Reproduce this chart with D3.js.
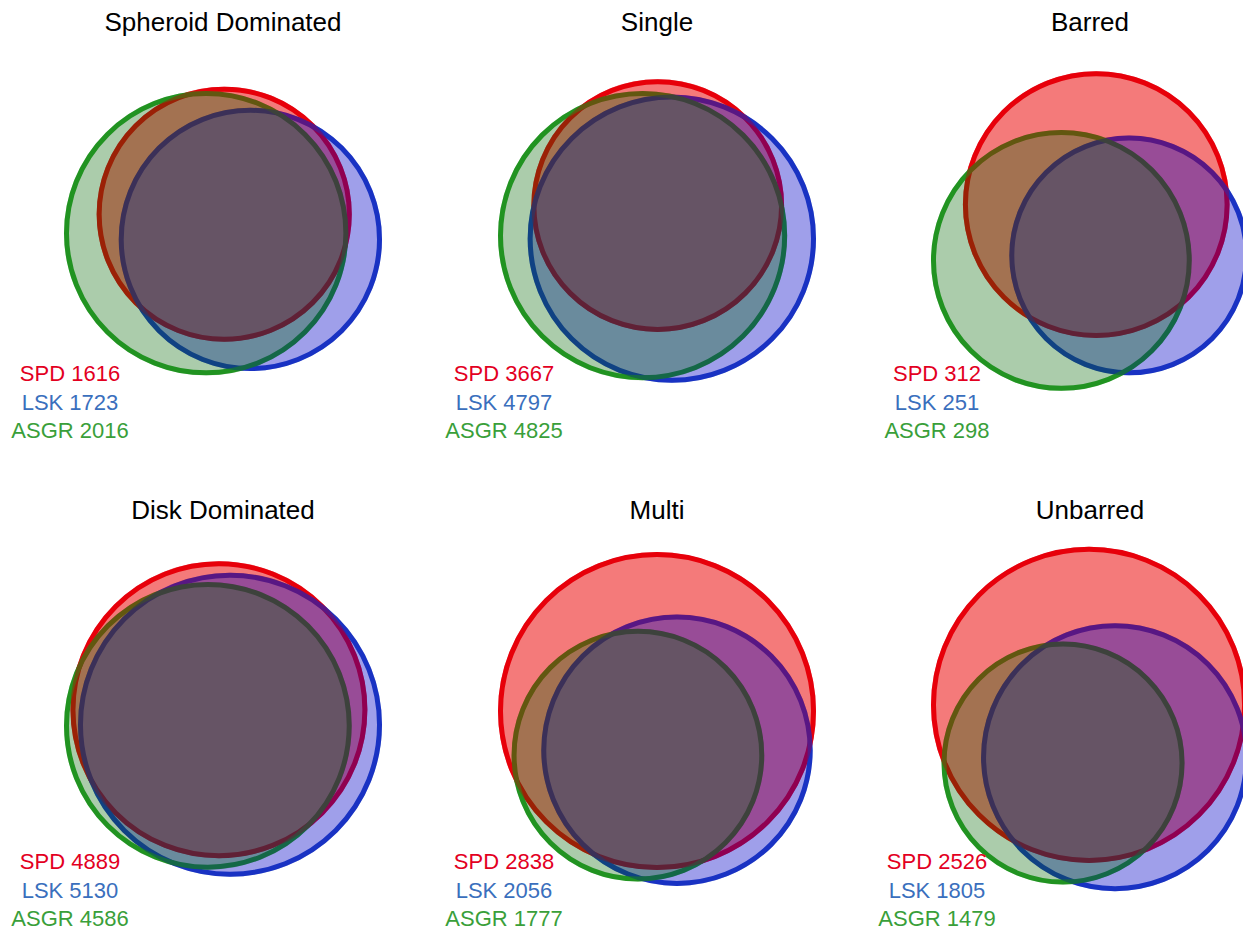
<!DOCTYPE html>
<html>
<head>
<meta charset="utf-8">
<script src="https://cdn.jsdelivr.net/npm/d3@7"></script>
<style>
  body { margin: 0; background: #fff; }
  text { font-family: "Liberation Sans", Arial, sans-serif; }
</style>
</head>
<body>
<script>
// panel titles and set sizes
const titles = ["Spheroid Dominated", "Single", "Barred", "Disk Dominated", "Multi", "Unbarred"];
const setNames = ["SPD", "LSK", "ASGR"];
const spdCounts = [1616, 3667, 312, 4889, 2838, 2526];
const lskCounts = [1723, 4797, 251, 5130, 2056, 1805];
const asgrCounts = [2016, 4825, 298, 4586, 1777, 1479];
// venn layout: centre of LSK / ASGR circle relative to SPD, in sqrt(count) units
const lskOffsets = [[8.4, 8.1], [6.9, 16.2], [4.44, 6.87], [5.3, 7.2], [6.8, 13.3], [8.4, 16.9]];
const asgrOffsets = [[-5.8, 6.1], [-7.4, 14.7], [-4.71, 7.54], [-5.3, 7.7], [-6.5, 15.0], [-8.4, 18.8]];

const width = 1243;
const height = 930;
const colCenters = [223, 657, 1090];
const rowCenters = [231, 719];
const diagramWidth = 313;
const strokeW = 5;

const fillColor = { SPD: "rgba(234,0,0,0.52)", LSK: "rgba(0,0,200,0.375)", ASGR: "rgba(0,100,0,0.33)" };
const strokeColor = { SPD: "rgb(228,0,22)", LSK: "rgb(40,80,192)", ASGR: "rgb(50,170,50)" };
const labelColor = { SPD: "#e3001f", LSK: "#3a6fbd", ASGR: "#3a9f3a" };

const svg = d3.select("body").append("svg")
	.attr("width", width)
	.attr("height", height);

titles.forEach((title, i) => {
	const cx = colCenters[i % 3];
	const cy = rowCenters[Math.floor(i / 3)];

	//build the three sets in diagram units
	const sets = [
		{ name: "SPD", count: spdCounts[i], x: 0, y: 0 },
		{ name: "LSK", count: lskCounts[i], x: lskOffsets[i][0], y: lskOffsets[i][1] },
		{ name: "ASGR", count: asgrCounts[i], x: asgrOffsets[i][0], y: asgrOffsets[i][1] }
	];
	const rUnit = d3.scaleSqrt().domain([0, 1]).range([0, 1]);
	sets.forEach(s => s.r = rUnit(s.count));

	//fit the union of the circles into the panel
	const x0 = d3.min(sets, s => s.x - s.r), x1 = d3.max(sets, s => s.x + s.r);
	const y0 = d3.min(sets, s => s.y - s.r), y1 = d3.max(sets, s => s.y + s.r);
	const k = diagramWidth / (x1 - x0);
	const h = (y1 - y0) * k;
	const xScale = d3.scaleLinear().domain([x0, x1]).range([cx - diagramWidth / 2, cx + diagramWidth / 2]);
	const yScale = d3.scaleLinear().domain([y0, y1]).range([cy - h / 2, cy + h / 2]);

	const g = svg.append("g");

	// outlines first, fills drawn over them
	g.append("g").selectAll("circle")
		.data(sets)
		.join("circle")
		.attr("cx", s => xScale(s.x))
		.attr("cy", s => yScale(s.y))
		.attr("r", s => s.r * k)
		.attr("fill", "none")
		.attr("stroke", s => strokeColor[s.name])
		.attr("stroke-width", strokeW);

	g.append("g").selectAll("circle")
		.data(sets)
		.join("circle")
		.attr("cx", s => xScale(s.x))
		.attr("cy", s => yScale(s.y))
		.attr("r", s => s.r * k + strokeW / 2)
		.attr("fill", s => fillColor[s.name]);

	//title
	g.append("text")
		.attr("x", cx)
		.attr("y", cy - 200)
		.attr("text-anchor", "middle")
		.style("font-size", "26px")
		.attr("fill", "#000")
		.text(title);

	//counts
	g.append("g").selectAll("text")
		.data(sets)
		.join("text")
		.attr("x", cx - 153)
		.attr("y", (s, j) => cy + 150 + j * 28.7)
		.attr("text-anchor", "middle")
		.style("font-size", "22px")
		.attr("fill", s => labelColor[s.name])
		.text(s => `${s.name} ${s.count}`);
});
</script>
</body>
</html>
